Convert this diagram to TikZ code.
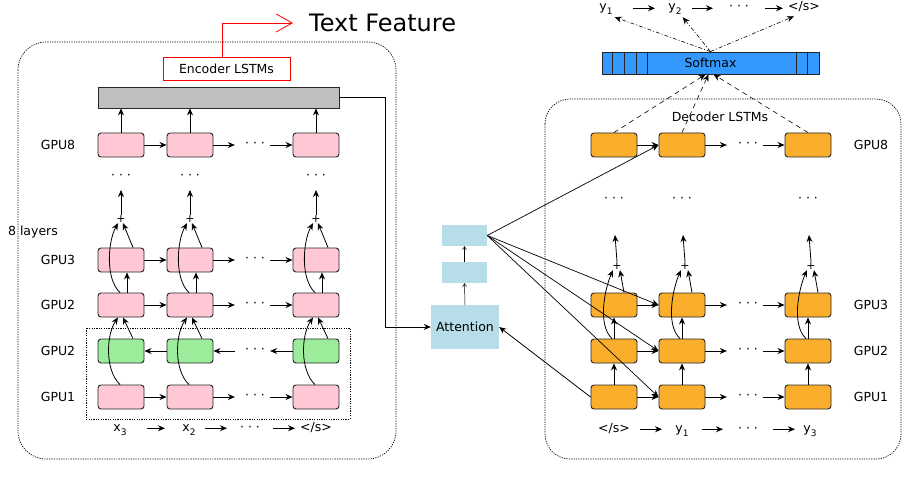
\documentclass[tikz,border=0pt]{standalone}
\usepackage{fontspec}
\setmainfont{DejaVu Sans}
\usetikzlibrary{arrows.meta}

\definecolor{encpink}{RGB}{255,200,212}
\definecolor{bwdgreen}{RGB}{156,236,156}
\definecolor{decorange}{RGB}{251,174,44}
\definecolor{smblue}{RGB}{51,153,255}
\definecolor{attblue}{RGB}{183,221,232}

\newcommand{\lowsub}[1]{\raisebox{-4pt}{\fontsize{9}{9}\selectfont#1}}

\begin{document}
\begin{tikzpicture}
	[
		x=1pt, y=-1pt,
		font=\fontsize{12.5}{15}\selectfont,
		cell/.style={draw=black!85, rounded corners=3pt, minimum width=46pt, minimum height=24pt, inner sep=0pt, line width=0.9pt},
		enccell/.style={cell, fill=encpink},
		bwdcell/.style={cell, fill=bwdgreen},
		deccell/.style={cell, fill=decorange},
		attbox/.style={fill=attblue, inner sep=0pt},
		plus/.style={inner sep=0.5pt, font=\fontsize{11}{11}\selectfont},
		dots/.style={inner sep=0pt},
		seqlab/.style={anchor=base, inner sep=0pt},
		conn/.style={-{Stealth[length=7pt,width=6pt]}, line width=0.8pt},
		thinconn/.style={-{Straight Barb[length=3pt,width=4pt]}, line width=0.5pt},
		softconn/.style={conn, line width=0.6pt, dash pattern=on 5pt off 4pt},
		outconn/.style={conn, line width=0.6pt, dash pattern=on 4pt off 2pt on 1pt off 2pt},
		frame/.style={line width=0.7pt, dash pattern=on 1.2pt off 1.2pt}
	]
	\useasboundingbox (0,0) rectangle (911,484);

	% Draw frames.
	\draw[frame, rounded corners=28pt] (18,42) rectangle (396,459);
	\draw[frame, rounded corners=25pt] (545,99) rectangle (901,459);
	\draw[frame] (86,328) rectangle (350,419);

	% Draw encoder.
	\node[draw=black!85, fill=black!25, minimum width=241pt, minimum height=21pt, inner sep=0pt, line width=0.8pt] (bar) at (218.5,97.5) {};
	\node[draw=red, line width=0.8pt, minimum width=127pt, minimum height=23pt, inner sep=0pt, text depth=-1pt] (encl) at (226.5,68.5) {Encoder LSTMs};
	\node[anchor=west, inner sep=0pt, font=\fontsize{24}{28}\selectfont] (tf) at (309,23) {Text Feature};
	\draw[red, line width=0.8pt, -{Straight Barb[length=16pt,width=18pt]}] ([xshift=-4.5pt]encl.north) |- ([xshift=-16pt]tf.west);

	\foreach \c/\x in {1/121,2/190,3/316}
	{
		\node[enccell] (e1-\c) at (\x,397) {};
		\node[bwdcell] (eb-\c) at (\x,351) {};
		\node[enccell] (e2-\c) at (\x,305) {};
		\node[enccell] (e3-\c) at (\x,260) {};
		\node[enccell] (e8-\c) at (\x,145) {};
		\node[plus] (ep-\c) at (\x,219) {+};
		\node[dots] (ev-\c) at (\x,177) {· · ·};
		\coordinate (eu-\c) at (\x,190);
	}
	\foreach \n/\t/\y in {8/GPU8/145,3/GPU3/260,2/GPU2/305,b/GPU2/351,1/GPU1/397}
	{
		\node (egpu\n) at (58,\y) {\t};
		\node[dots] (ed\n) at (255,\y) {· · ·};
	}
	\node (layers) at (33,232) {8 layers};

	% Connect encoder cells.
	\foreach \r in {1,2,3,8}
	{
		\draw[conn] (e\r-1.east) -- (e\r-2.west);
		\draw[conn] (e\r-2.east) -- ([xshift=-10pt]ed\r.west);
		\draw[conn] ([xshift=5pt]ed\r.east) -- (e\r-3.west);
	}
	\draw[conn] (eb-2.west) -- (eb-1.east);
	\draw[conn] ([xshift=-10pt]edb.west) -- (eb-2.east);
	\draw[conn] (eb-3.west) -- ([xshift=5pt]edb.east);
	\foreach \c in {1,2,3}
	{
		\draw[conn] ([xshift=-1pt]e1-\c.north) .. controls +(-15,-14) and +(-12,18) .. ([xshift=-3pt]e2-\c.south);
		\draw[conn] ([xshift=12pt]eb-\c.north) -- ([xshift=2pt]e2-\c.south);
		\draw[conn] ([xshift=-1pt]e2-\c.north) .. controls +(-15,-14) and +(-10,18) .. ([xshift=-3pt]ep-\c.south);
		\draw[conn] ([xshift=6pt]e2-\c.north) -- ([xshift=6pt]e3-\c.south);
		\draw[conn] ([xshift=12pt]e3-\c.north) -- ([xshift=2pt]ep-\c.south);
		\draw[conn] (ep-\c.north) -- (eu-\c);
		\draw[conn] (e8-\c.north) -- (e8-\c.north |- bar.south);
	}

	% Draw encoder input.
	\node[seqlab] (ex3) at (120,431) {x\lowsub{3}};
	\node[seqlab] (ex2) at (189,431) {x\lowsub{2}};
	\node[seqlab] (exd) at (250,431) {· · ·};
	\node[seqlab] (exe) at (316,431) {</s>};
	\draw[conn] ([xshift=27pt]ex3.mid) -- ([xshift=-24pt]ex2.mid);
	\draw[conn] ([xshift=16pt]ex2.mid) -- ([xshift=-23pt]exd.mid);
	\draw[conn] ([xshift=23pt]exd.mid) -- ([xshift=-21pt]exe.mid);

	% Draw attention.
	\node[attbox, minimum width=68pt, minimum height=44pt] (att) at (465,327) {Attention};
	\node[attbox, minimum width=45pt, minimum height=21pt] (hid) at (464.5,272.5) {};
	\node[attbox, minimum width=45pt, minimum height=21pt] (ctx) at (464.5,235.5) {};
	\draw[thinconn] (att.north) -- (hid.south);
	\draw[thinconn] (hid.north) -- (ctx.south);
	\draw[conn] (bar.east) -- ++(46,0) |- (att.west);

	% Draw decoder.
	\foreach \c/\x in {1/614,2/682,3/808}
	{
		\node[deccell] (d1-\c) at (\x,397) {};
		\node[deccell] (d2-\c) at (\x,351) {};
		\node[deccell] (d3-\c) at (\x,305) {};
		\node[deccell] (d8-\c) at (\x,145) {};
		\node[plus] (dp-\c) at ([xshift=3pt]\x,266) {+};
		\node[dots] (dv-\c) at (\x,200) {· · ·};
		\coordinate (du-\c) at ([xshift=1pt]\x,235);
	}
	\foreach \n/\y in {8/145,3/305,2/351,1/397}
	{
		\node (dgpu\n) at (871,\y) {GPU\n};
		\node[dots] (dd\n) at (748,\y) {· · ·};
	}
	\node (decl) at (720,117) {Decoder LSTMs};

	% Connect decoder cells.
	\foreach \r in {1,2,3,8}
	{
		\draw[conn] (d\r-1.east) -- (d\r-2.west);
		\draw[conn] (d\r-2.east) -- ([xshift=-11pt]dd\r.west);
		\draw[conn] ([xshift=5pt]dd\r.east) -- (d\r-3.west);
	}
	\foreach \c in {1,2,3}
	{
		\draw[conn] (d1-\c.north) -- (d2-\c.south);
		\draw[conn] (d2-\c.north) -- (d3-\c.south);
		\draw[conn] ([xshift=-2pt]d2-\c.north) .. controls +(-15,-14) and +(-8,18) .. ([xshift=-4pt]dp-\c.south);
		\draw[conn] ([xshift=10pt]d3-\c.north) -- ([xshift=3pt]dp-\c.south);
		\draw[conn] (dp-\c.north) -- (du-\c);
	}

	% Connect attention and decoder.
	\foreach \r in {8,3,2,1}
		\draw[conn, line width=0.7pt] (ctx.east) -- (d\r-2.west);
	\draw[conn] (d1-1.west) -- (att.east);

	% Draw decoder input.
	\node[seqlab] (dxe) at (614,432) {</s>};
	\node[seqlab] (dy1) at (682,432) {y\lowsub{1}};
	\node[seqlab] (dxd) at (748,432) {· · ·};
	\node[seqlab] (dy3) at (810,432) {y\lowsub{3}};
	\draw[conn] ([xshift=26pt]dxe.mid) -- ([xshift=-20pt]dy1.mid);
	\draw[conn] ([xshift=20pt]dy1.mid) -- ([xshift=-25pt]dxd.mid);
	\draw[conn] ([xshift=25pt]dxd.mid) -- ([xshift=-15pt]dy3.mid);

	% Draw softmax.
	\node[draw=black!85, fill=smblue, minimum width=217pt, minimum height=22pt, inner sep=0pt, line width=0.8pt] (sm) at (710.5,63) {Softmax};
	\foreach \d in {11,23,35,46,195,206}
		\draw[black!85, line width=0.8pt] ([xshift=\d pt]sm.north west) -- ([xshift=\d pt]sm.south west);
	\foreach \c/\s in {1/-5,2/-2,3/3}
		\draw[softconn] (d8-\c.north) -- ([xshift=\s pt]sm.south);

	% Draw output.
	\node[seqlab] (ty1) at (606,11) {y\lowsub{1}};
	\node[seqlab] (ty2) at (675,11) {y\lowsub{2}};
	\node[seqlab] (tyd) at (739,11) {· · ·};
	\node[seqlab] (tye) at (804,11) {</s>};
	\draw[conn] ([xshift=27pt]ty1.mid) -- ([xshift=-20pt]ty2.mid);
	\draw[conn] ([xshift=17pt]ty2.mid) -- ([xshift=-26pt]tyd.mid);
	\draw[conn] ([xshift=26pt]tyd.mid) -- ([xshift=-21pt]tye.mid);
	\draw[outconn] (sm.north) -- ([xshift=2pt,yshift=-2pt]ty1.south east);
	\draw[outconn] (sm.north) -- ([xshift=1pt,yshift=-2pt]ty2.south east);
	\draw[outconn] (sm.north) -- ([xshift=6pt,yshift=-4pt]tye.south west);
\end{tikzpicture}
\end{document}
